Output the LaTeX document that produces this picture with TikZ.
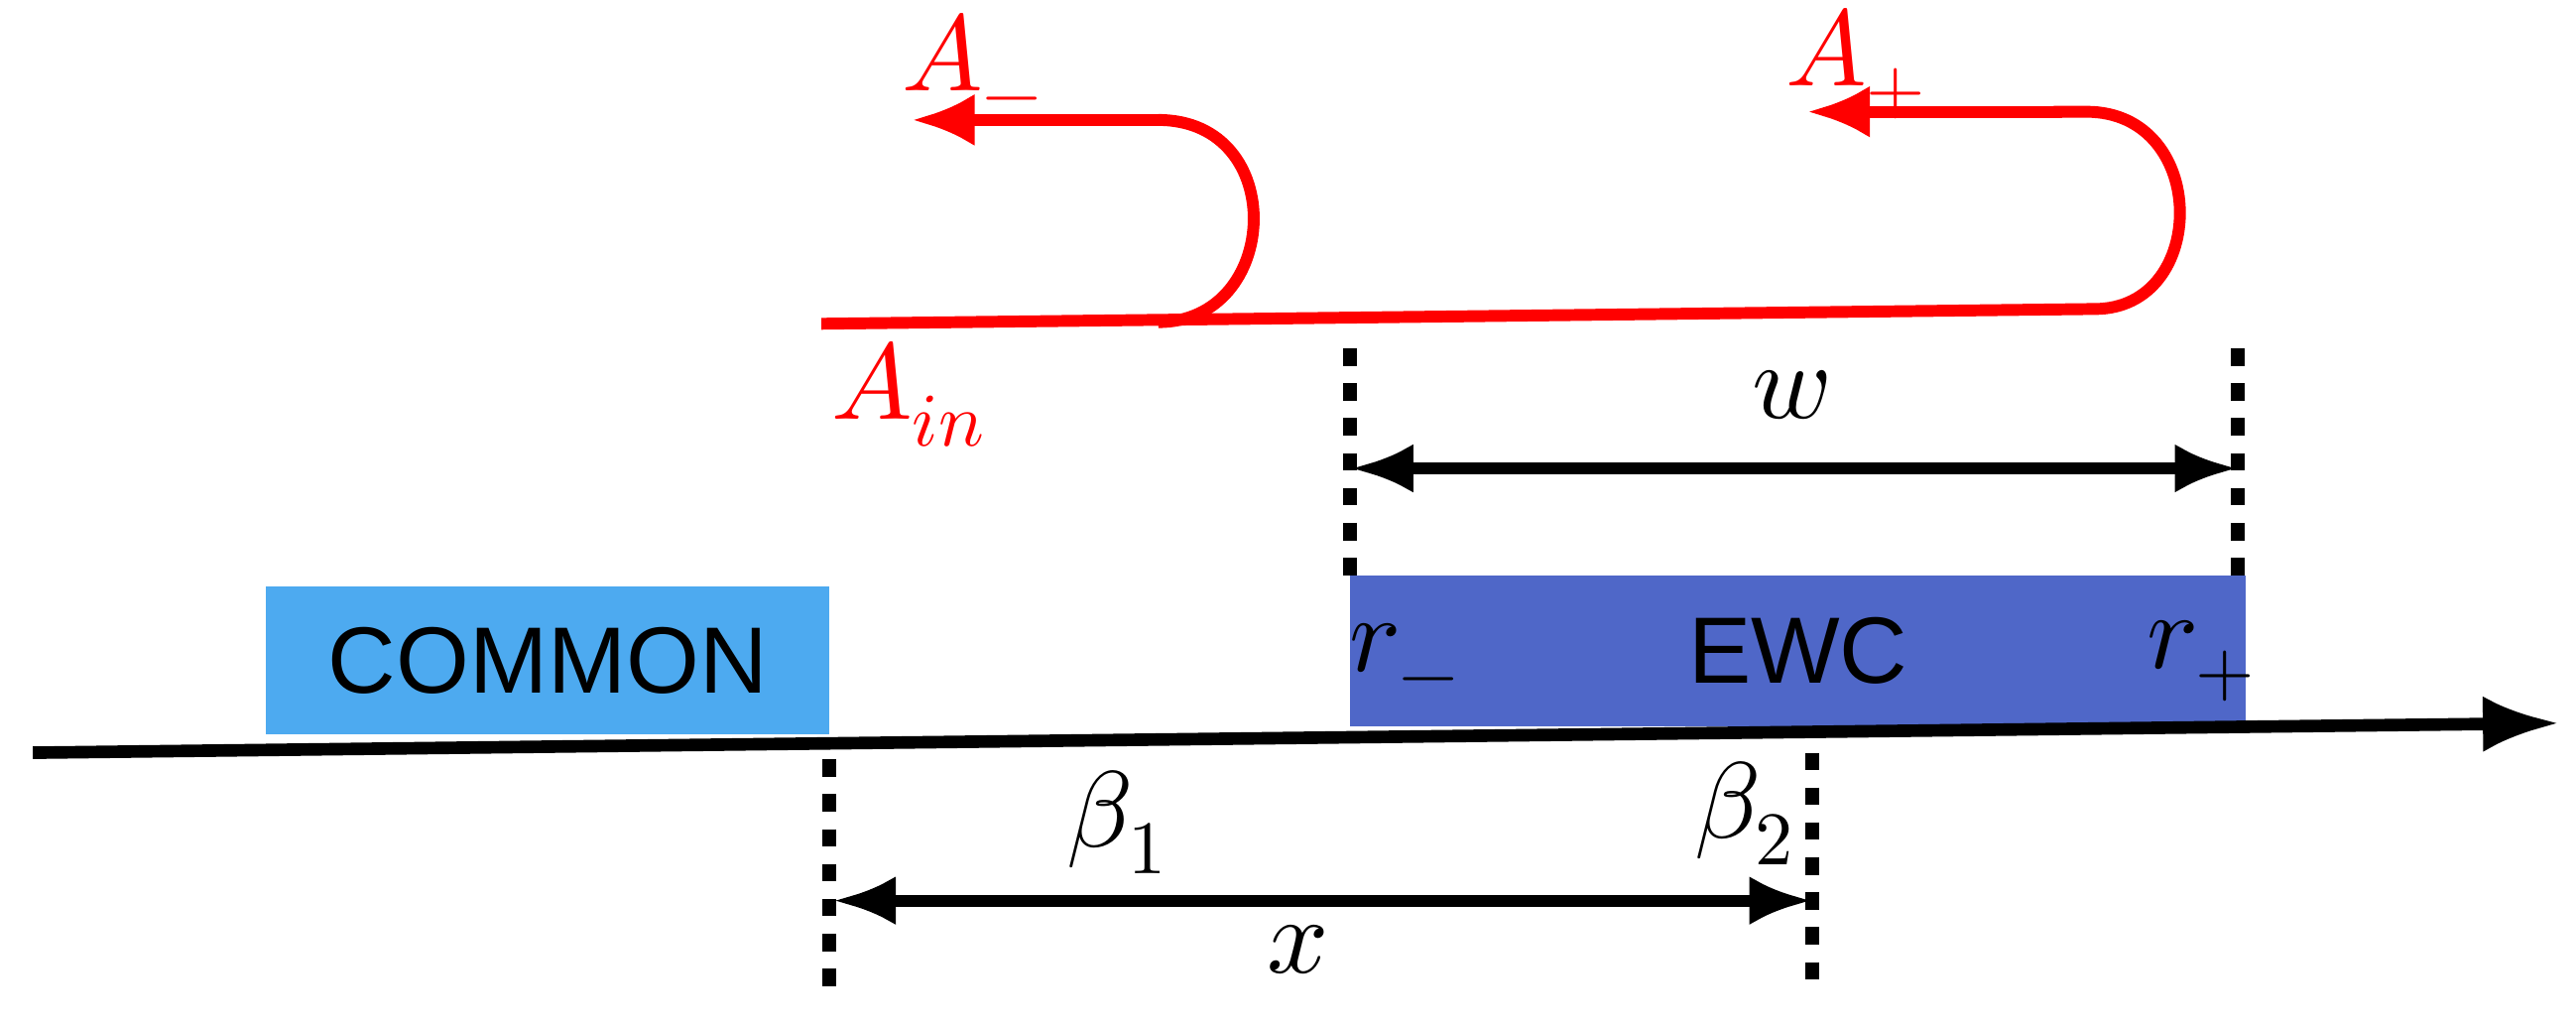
\documentclass[tikz,border=0pt]{standalone}
\usepackage{fontspec}
\setmainfont{Liberation Sans}
\usepackage{unicode-math}
\setmathfont{Latin Modern Math}
\usetikzlibrary{arrows.meta}
\definecolor{lb}{HTML}{4DAAF0}
\definecolor{db}{HTML}{4F67C8}
\begin{document}
\begin{tikzpicture}[x=0.01656cm,y=-0.01656cm,
  dim/.style={line width=3.4pt,{Latex[length=18pt,width=14pt]}-{Latex[length=18pt,width=14pt]}},
  dots/.style={line width=4pt,dash pattern=on 5pt off 5pt},
  red/.style={draw=red,line width=3.4pt},
  lab/.style={font=\fontsize{31}{36}\selectfont}]
\useasboundingbox (0,0) rectangle (1568,625);
\node[fill=lb,minimum width=5.68cm,minimum height=1.49cm,inner sep=0,font=\fontsize{27}{32}\selectfont] (common) at (333.5,402) {COMMON};
\node[fill=db,minimum width=9.03cm,minimum height=1.52cm,inner sep=0,font=\fontsize{27}{32}\selectfont] (ewc) at (1094.5,396) {EWC};
\coordinate (a0) at (20,458); \coordinate (a1) at (1558,440);
\draw[line width=3.6pt,-{Latex[length=22pt,width=16pt]}] (a0) -- (a1);
\node[lab] (rm) at (855,402) {$r_-$};
\node[lab] (rp) at (1340,402) {$r_+$};
% w
\coordinate (w1t) at (822,212); \coordinate (w1b) at (822,350);
\coordinate (w2t) at (1362,212); \coordinate (w2b) at (1362,350);
\draw[dots] (w1t) -- (w1b); \draw[dots] (w2t) -- (w2b);
\coordinate (wl) at (822,285); \coordinate (wr) at (1362,285);
\draw[dim] (wl) -- (wr);
\node[lab] (w) at (1090,240) {$w$};
% x
\coordinate (x1t) at (505,462); \coordinate (x1b) at (505,602);
\coordinate (x2t) at (1103,458); \coordinate (x2b) at (1103,600);
\draw[dots] (x1t) -- (x1b); \draw[dots] (x2t) -- (x2b);
\coordinate (xl) at (507,548); \coordinate (xr) at (1103,548);
\draw[dim] (xl) -- (xr);
\node[lab] (b1) at (680,500) {$\beta_1$};
\node[lab] (b2) at (1062,495) {$\beta_2$};
\node[lab] (x) at (790,578) {$x$};
% red
\coordinate (s) at (500,197); \coordinate (e) at (1275,188);
\draw[red] (s) -- (e) .. controls (1345,188) and (1345,68) .. (1270,68) -- (1250,68);
\draw[red,-{Latex[length=18pt,width=15pt]}] (1255,68) -- (1100,68);
\draw[red] (705,196) .. controls (780,196) and (785,73) .. (705,73);
\draw[red,-{Latex[length=18pt,width=15pt]}] (710,73) -- (555,73);
\node[lab,text=red] (am) at (592,40) {$A_-$};
\node[lab,text=red] (ap) at (1130,39) {$A_+$};
\node[lab,text=red] (ain) at (553,240) {$A_{in}$};
\end{tikzpicture}
\end{document}
